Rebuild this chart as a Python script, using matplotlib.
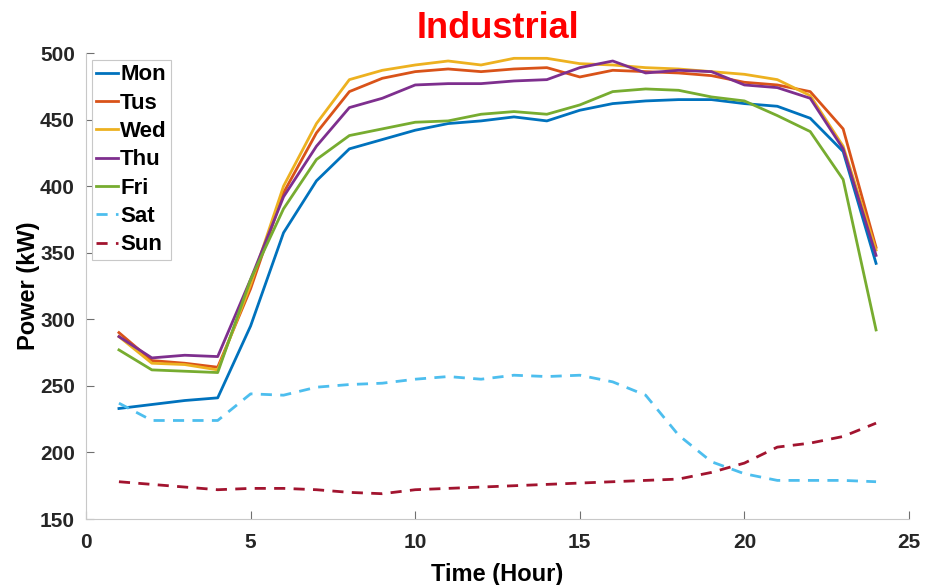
import matplotlib
matplotlib.use("Agg")
import matplotlib.pyplot as plt

plt.rcParams["font.family"] = ["Liberation Sans", "DejaVu Sans"]

hours = list(range(1, 25))

mon = [233, 236, 239, 241, 295, 365, 404, 428, 435, 442, 447, 449,
       452, 449, 457, 462, 464, 465, 465, 462, 460, 451, 426, 342]
tus = [290, 269, 267, 264, 323, 395, 440, 471, 481, 486, 488, 486,
       488, 489, 482, 487, 486, 485, 483, 478, 476, 471, 443, 354]
wed = [287, 267, 266, 262, 326, 400, 447, 480, 487, 491, 494, 491,
       496, 496, 492, 491, 489, 488, 486, 484, 480, 468, 430, 352]
thu = [287, 271, 273, 272, 330, 392, 430, 459, 466, 476, 477, 477,
       479, 480, 489, 494, 485, 487, 486, 476, 474, 466, 428, 348]
fri = [277, 262, 261, 260, 330, 383, 420, 438, 443, 448, 449, 454,
       456, 454, 461, 471, 473, 472, 467, 464, 453, 441, 405, 292]
sat = [237, 224, 224, 224, 244, 243, 249, 251, 252, 255, 257, 255,
       258, 257, 258, 253, 243, 213, 193, 184, 179, 179, 179, 178]
sun = [178, 176, 174, 172, 173, 173, 172, 170, 169, 172, 173, 174,
       175, 176, 177, 178, 179, 180, 185, 192, 204, 207, 212, 222]

day_labels = ["Mon", "Tus", "Wed", "Thu", "Fri", "Sat", "Sun"]
series = [mon, tus, wed, thu, fri, sat, sun]
# MATLAB default line colours
colors = ["#0072BD", "#D95319", "#EDB120", "#7E2F8E", "#77AC30", "#4DBEEE", "#A2142F"]
styles = ["-", "-", "-", "-", "-", "--", "--"]

fig = plt.figure(figsize=(9.28, 5.85), dpi=100)
ax = fig.add_axes([0.0927, 0.1128, 0.8868, 0.7966])

for vals, lab, c, ls in zip(series, day_labels, colors, styles):
    line, = ax.plot(hours, vals, color=c, linestyle=ls, linewidth=2, label=lab)
    if ls == "--":
        line.set_dashes((4, 3))

ax.set_xlim(0, 25)
ax.set_ylim(150, 500)
ax.set_xticks([0, 5, 10, 15, 20, 25])
ax.set_yticks([150, 200, 250, 300, 350, 400, 450, 500])

for side in ["top", "right"]:
    ax.spines[side].set_visible(False)
for side in ["left", "bottom"]:
    ax.spines[side].set_color("#c8c8c8")
    ax.spines[side].set_linewidth(0.8)

ax.tick_params(direction="in", length=6, width=0.8, colors="#707070",
               labelcolor="#262626", labelsize=15)
ax.tick_params(axis="x", pad=10)
ax.tick_params(axis="y", pad=8)
for t in ax.get_xticklabels() + ax.get_yticklabels():
    t.set_fontweight("bold")

ax.set_xlabel("Time (Hour)", fontsize=17, fontweight="bold", labelpad=8)
ax.set_ylabel("Power (kW)", fontsize=17, fontweight="bold", labelpad=0)
ax.set_title("Industrial", fontsize=26, fontweight="bold", color="red", pad=11)

leg = ax.legend(loc="upper left", bbox_to_anchor=(0.007, 0.985),
                prop={"weight": "bold", "size": 16}, handlelength=1.0,
                handletextpad=0.08, labelspacing=0.33, borderpad=0.2,
                borderaxespad=0, fancybox=False, framealpha=1)
leg.get_frame().set_edgecolor("#c8c8c8")
leg.get_frame().set_linewidth(0.8)

fig.savefig("out.png", dpi=100)
